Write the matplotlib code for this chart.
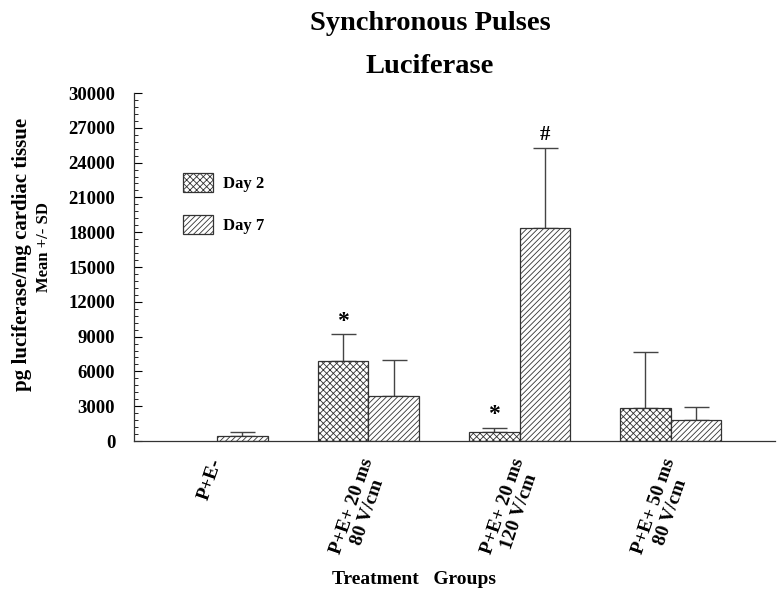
import matplotlib
matplotlib.use("Agg")
import matplotlib.pyplot as plt
from matplotlib.transforms import ScaledTranslation
import numpy as np

groups = ["P+E-", "P+E+ 20 ms\n80 V/cm", "P+E+ 20 ms\n120 V/cm", "P+E+ 50 ms\n80 V/cm"]
series = ["Day 2", "Day 7"]
day2_mean = [0, 6900, 750, 2850]
day2_sd = [0, 2300, 350, 4800]
day7_mean = [400, 3850, 18400, 1800]
day7_sd = [350, 3150, 6900, 1150]
marks = [(1, 0, "*"), (2, 0, "*"), (2, 1, "#")]
yticks = [0, 3000, 6000, 9000, 12000, 15000, 18000, 21000, 24000, 27000, 30000]

plt.rcParams["font.family"] = ["Liberation Serif", "DejaVu Serif"]
plt.rcParams["font.weight"] = "bold"
plt.rcParams["hatch.linewidth"] = 0.6

fig = plt.figure(figsize=(7.79, 5.97), dpi=100)
ax = fig.add_axes([134/779, 1-441/597, (775-134)/779, (441-93)/597])

x = np.arange(len(groups))
w = 0.335
means = [day2_mean, day7_mean]
sds = [day2_sd, day7_sd]
hatches = ["xxxxx", "//////"]
handles = []
for s in range(2):
    xs = x + (s - 0.5) * w
    m = np.array(means[s], dtype=float)
    sd = np.array(sds[s], dtype=float)
    keep = m > 0
    b = ax.bar(xs[keep], m[keep], width=w, color="white", edgecolor="#333333",
               hatch=hatches[s], linewidth=0.9, label=series[s], zorder=2)
    handles.append(b)
    ax.errorbar(xs[keep], m[keep], yerr=[np.zeros(keep.sum()), sd[keep]], fmt="none",
                ecolor="#444444", elinewidth=1.0, capsize=9, capthick=1.0, zorder=1)

for gi, si, sym in marks:
    xx = gi + (si - 0.5) * w
    top = means[si][gi] + sds[si][gi]
    ax.annotate(sym, (xx, top), xytext=(0, 2), textcoords="offset points",
                ha="center", va="bottom", fontsize=17 if sym == "*" else 15,
                fontweight="bold")

ax.set_xlim(-0.55, 3.69)
ax.set_ylim(0, 30000)
ax.set_yticks(yticks)
ax.set_yticklabels([str(v) for v in yticks], fontsize=13.5, fontweight="bold")
ax.set_yticks(np.arange(0, 30001, 600), minor=True)
ax.tick_params(axis="y", which="major", direction="in", length=6, width=0.8, pad=13.5)
ax.tick_params(axis="y", which="minor", direction="in", length=3, width=0.6)
ax.set_xticks(x)
ax.set_xticklabels(groups, rotation=71, ha="right", va="top", rotation_mode="anchor",
                   fontsize=14, fontweight="bold", multialignment="center",
                   linespacing=1.0)
ax.tick_params(axis="x", length=0, pad=11)
shift = ScaledTranslation(-8/100, 0, fig.dpi_scale_trans)
for lab in ax.get_xticklabels():
    lab.set_transform(lab.get_transform() + shift)
for sp in ["top", "right"]:
    ax.spines[sp].set_visible(False)
for sp in ["left", "bottom"]:
    ax.spines[sp].set_linewidth(0.9)
    ax.spines[sp].set_color("#333333")

leg = ax.legend(handles=handles, labels=series, loc="upper left",
                bbox_to_anchor=(168/779, 1-158/597), bbox_transform=fig.transFigure,
                frameon=False, handlelength=1.8, handleheight=1.4,
                labelspacing=1.35, handletextpad=0.6, prop={"weight": "bold", "size": 12})

fig.text(430/779, 1-30/597, "Synchronous Pulses", ha="center", va="baseline",
         fontsize=20.5, fontweight="bold")
fig.text(430/779, 1-73/597, "Luciferase", ha="center", va="baseline",
         fontsize=20.5, fontweight="bold")
fig.text(22/779, 1-254/597, "pg luciferase/mg cardiac tissue", rotation=90,
         ha="center", va="center", fontsize=15, fontweight="bold")
fig.text(44/779, 1-247/597, "Mean +/- SD", rotation=90,
         ha="center", va="center", fontsize=12, fontweight="bold")
fig.text(414/779, 1-579/597, "Treatment   Groups", ha="center", va="center",
         fontsize=14, fontweight="bold")

fig.savefig("out.png", dpi=100)
